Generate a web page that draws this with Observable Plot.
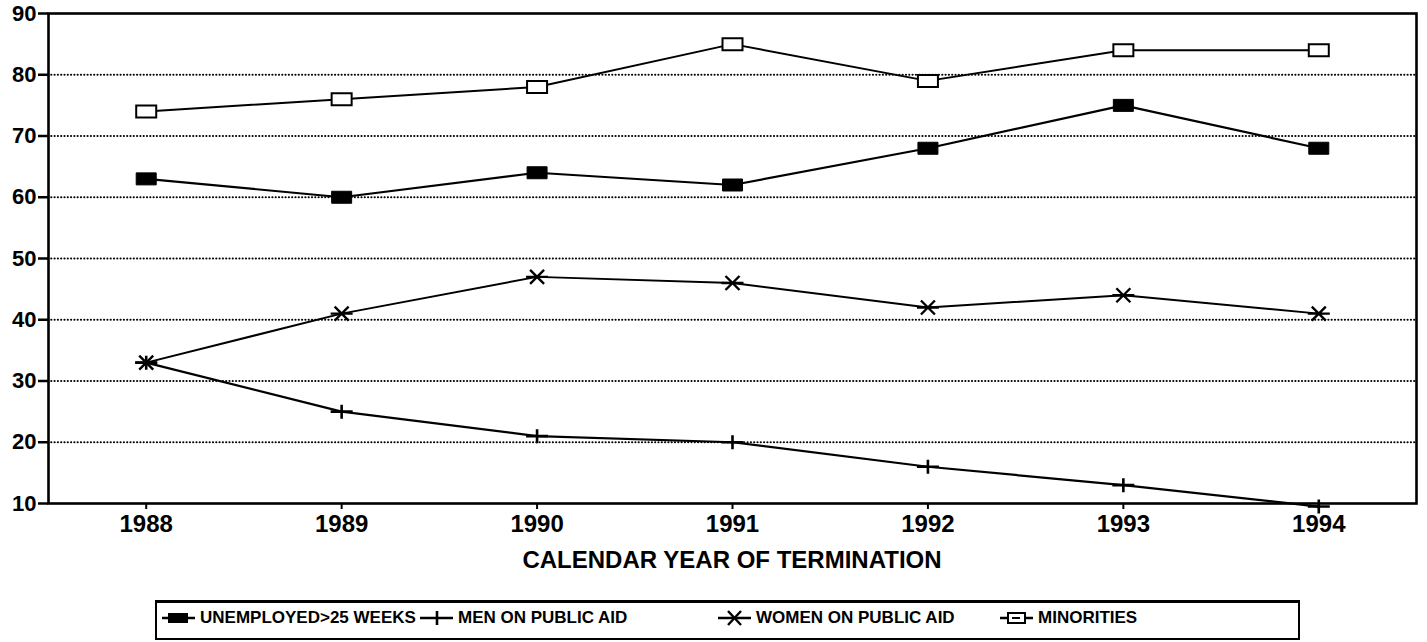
<!DOCTYPE html>
<html>
<head>
<meta charset="utf-8">
<script src="https://cdn.jsdelivr.net/npm/d3@7"></script>
<script src="https://cdn.jsdelivr.net/npm/@observablehq/plot@0.6"></script>
<style>
  html, body { margin: 0; padding: 0; background: #fff; }
  #wrap { position: relative; width: 1427px; height: 642px; font-family: "Liberation Sans", Arial, sans-serif; font-weight: bold; color: #000; overflow: hidden; }
  #chart { position: absolute; left: 0; top: 0; }
  #xtitle { position: absolute; left: 432px; top: 546px; width: 600px; text-align: center; font-size: 24px; white-space: nowrap; }
  #legend { position: absolute; left: 155px; top: 600px; width: 1145px; height: 40px; border: 2px solid #000; border-top-width: 3px; box-sizing: border-box; }
  .item { position: absolute; top: 608px; display: flex; align-items: center; font-size: 17px; white-space: nowrap; line-height: 20px; }
  .item svg { margin-right: 5px; }
</style>
</head>
<body>
<div id="wrap">
  <div id="chart"></div>
  <div id="xtitle">CALENDAR YEAR OF TERMINATION</div>
  <div id="legend"></div>
</div>
<script>
const years = [1988, 1989, 1990, 1991, 1992, 1993, 1994];
const unemployed = [63, 60, 64, 62, 68, 75, 68];
const menAid = [33, 25, 21, 20, 16, 13, 9.5];
const womenAid = [33, 41, 47, 46, 42, 44, 41];
const minorities = [74, 76, 78, 85, 79, 84, 84];
const seriesNames = ["UNEMPLOYED>25 WEEKS", "MEN ON PUBLIC AID", "WOMEN ON PUBLIC AID", "MINORITIES"];
const yTicks = [10, 20, 30, 40, 50, 60, 70, 80, 90];
const gridTicks = [20, 30, 40, 50, 60, 70, 80];

const rectSym = { draw(ctx) { ctx.rect(-10, -6, 20, 12); } };
const plusSym = { draw(ctx) { ctx.moveTo(-11, 0); ctx.lineTo(11, 0); ctx.moveTo(0, -7); ctx.lineTo(0, 7); } };
const starSym = { draw(ctx) {
  ctx.moveTo(-11, 0); ctx.lineTo(11, 0);
  ctx.moveTo(-7, -7); ctx.lineTo(7, 7);
  ctx.moveTo(-7, 7); ctx.lineTo(7, -7);
} };

const toRows = (vals) => years.map((yr, i) => ({year: yr, value: vals[i]}));
const dUnemp = toRows(unemployed), dMen = toRows(menAid), dWomen = toRows(womenAid), dMin = toRows(minorities);

const plot = Plot.plot({
  width: 1427,
  height: 540,
  marginLeft: 48,
  marginRight: 11,
  marginTop: 13,
  marginBottom: 37,
  style: { fontFamily: "Liberation Sans, Arial, sans-serif", fontWeight: "bold", fontSize: "22px", color: "#000", background: "#fff", overflow: "visible" },
  x: { domain: [1987.5, 1994.5] },
  y: { domain: [10, 90] },
  marks: [
    Plot.ruleY(gridTicks, { stroke: "#000", strokeWidth: 2.2, strokeDasharray: "0,3.3", strokeLinecap: "round" }),
    Plot.line(dMin, { x: "year", y: "value", stroke: "#000", strokeWidth: 2 }),
    Plot.line(dUnemp, { x: "year", y: "value", stroke: "#000", strokeWidth: 2.2 }),
    Plot.line(dWomen, { x: "year", y: "value", stroke: "#000", strokeWidth: 2 }),
    Plot.line(dMen, { x: "year", y: "value", stroke: "#000", strokeWidth: 2.2 }),
    Plot.dot(dMin, { x: "year", y: "value", symbol: rectSym, fill: "#fff", stroke: "#000", strokeWidth: 2 }),
    Plot.dot(dUnemp, { x: "year", y: "value", symbol: rectSym, fill: "#000", stroke: "#000", strokeWidth: 1 }),
    Plot.dot(dWomen, { x: "year", y: "value", symbol: starSym, fill: "none", stroke: "#000", strokeWidth: 2.4 }),
    Plot.dot(dMen, { x: "year", y: "value", symbol: plusSym, fill: "none", stroke: "#000", strokeWidth: 2.6 }),
    Plot.axisY({ ticks: yTicks, tickSize: 10, tickPadding: 2, strokeWidth: 2.5, label: null, fontSize: 22, fontWeight: "bold" }),
    Plot.axisX({ ticks: years, tickFormat: d => String(d), tickSize: 6, tickPadding: 5, strokeWidth: 2, label: null, fontSize: 24, fontWeight: "bold" }),
    Plot.frame({ stroke: "#000", strokeWidth: 2.6 })
  ]
});
document.getElementById("chart").appendChild(plot);

// Legend (page coordinates of each glyph's left edge)
const legendItems = [
  { name: seriesNames[0], left: 162, type: "filled" },
  { name: seriesNames[1], left: 420, type: "plus" },
  { name: seriesNames[2], left: 718, type: "star" },
  { name: seriesNames[3], left: 1000, type: "open" }
];
const wrap = document.getElementById("wrap");
for (const it of legendItems) {
  const div = document.createElement("div");
  div.className = "item";
  div.style.left = it.left + "px";
  let g = "";
  if (it.type === "filled") g = '<line x1="0" y1="10" x2="33" y2="10" stroke="#000" stroke-width="2.4"/><rect x="6" y="5" width="20" height="10" fill="#000"/>';
  if (it.type === "open") g = '<line x1="0" y1="10" x2="33" y2="10" stroke="#000" stroke-width="2.4"/><rect x="8" y="5" width="17" height="10" fill="#fff" stroke="#000" stroke-width="2"/><line x1="12" y1="10" x2="20" y2="10" stroke="#000" stroke-width="2"/>';
  if (it.type === "plus") g = '<line x1="0" y1="10" x2="33" y2="10" stroke="#000" stroke-width="2.4"/><line x1="17" y1="3" x2="17" y2="17" stroke="#000" stroke-width="2.6"/>';
  if (it.type === "star") g = '<line x1="0" y1="10" x2="33" y2="10" stroke="#000" stroke-width="2.4"/><line x1="10" y1="3" x2="23" y2="17" stroke="#000" stroke-width="2.4"/><line x1="10" y1="17" x2="23" y2="3" stroke="#000" stroke-width="2.4"/>';
  div.innerHTML = `<svg width="33" height="20">${g}</svg><span>${it.name}</span>`;
  wrap.appendChild(div);
}
</script>
</body>
</html>
